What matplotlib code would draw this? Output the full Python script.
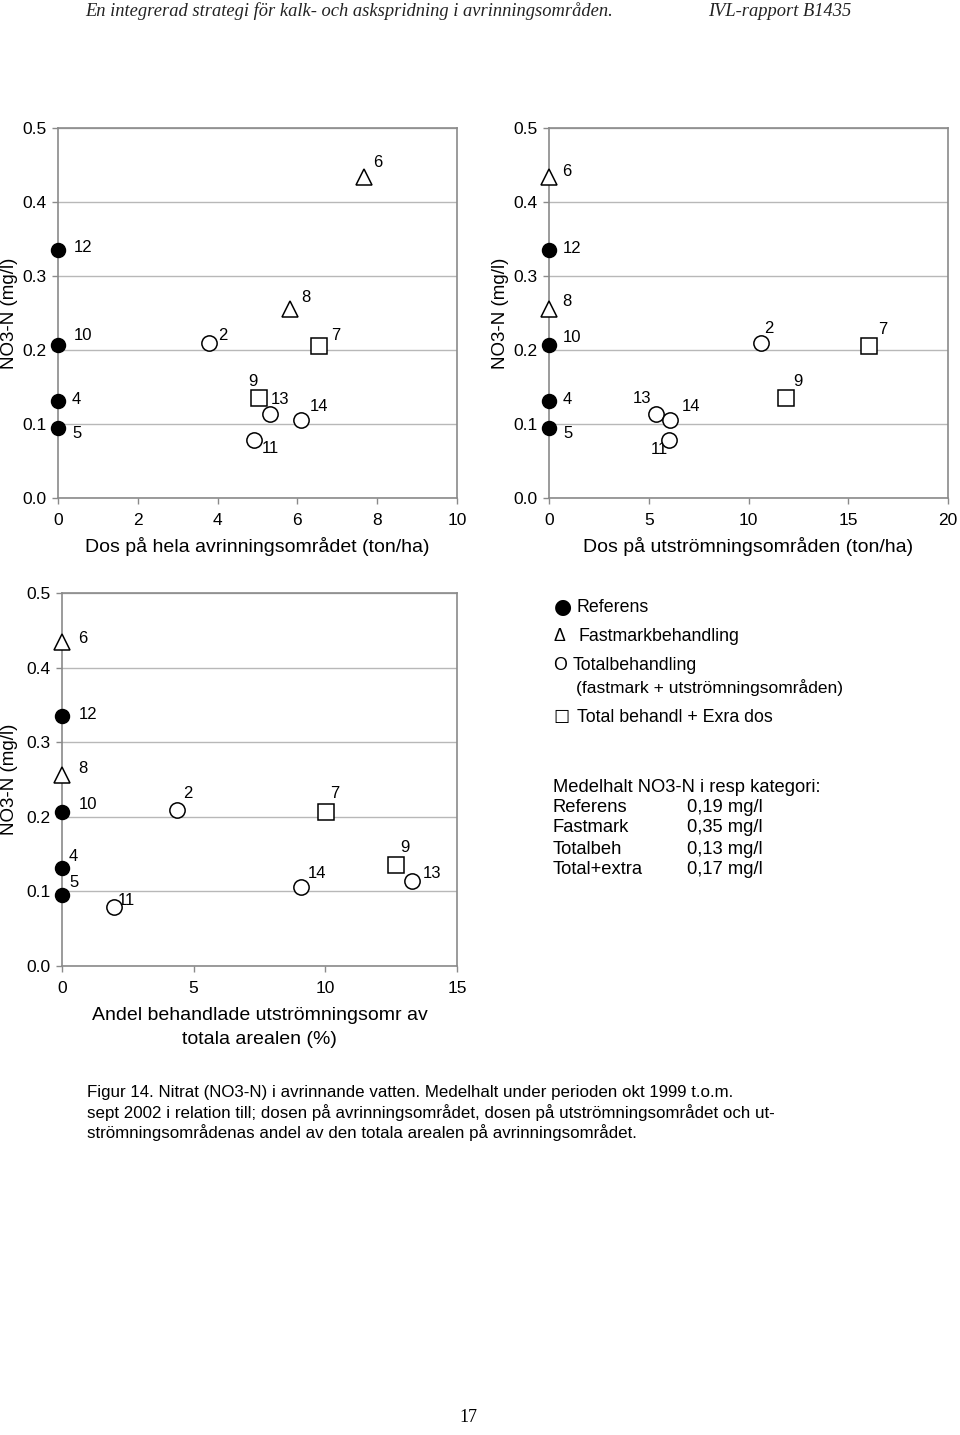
import matplotlib.pyplot as plt

plt.rcParams['font.family'] = ['Liberation Sans', 'DejaVu Sans']

# site numbers and NO3-N (mg/l) for each category
ref_sites = ['12', '10', '4', '5']
ref_no3 = [0.335, 0.207, 0.131, 0.095]
fast_sites = ['6', '8']
fast_no3 = [0.434, 0.256]
tot_sites = ['2', '13', '14', '11']
tot_no3 = [0.209, 0.114, 0.106, 0.079]
ext_sites = ['7', '9']
ext_no3 = [0.206, 0.135]

# dos på hela avrinningsområdet (ton/ha)
ref_dos_hela = [0, 0, 0, 0]
fast_dos_hela = [7.68, 5.82]
tot_dos_hela = [3.78, 5.31, 6.08, 4.92]
ext_dos_hela = [6.54, 5.05]

# dos på utströmningsområden (ton/ha)
ref_dos_utstr = [0, 0, 0, 0]
fast_dos_utstr = [0, 0]
tot_dos_utstr = [10.64, 5.35, 6.08, 6.0]
ext_dos_utstr = [16.04, 11.9]

# andel behandlade utströmningsområden av totala arealen (%)
ref_andel = [0, 0, 0, 0]
fast_andel = [0, 0]
tot_andel = [4.36, 13.31, 9.08, 1.98]
ext_andel = [10.01, 12.68]

legend_rows = ['Referens', 'Fastmark', 'Totalbeh', 'Total+extra']
legend_means = ['0,19 mg/l', '0,35 mg/l', '0,13 mg/l', '0,17 mg/l']

W, H = 960, 1435
fig = plt.figure(figsize=(W / 100, H / 100), dpi=100)


def box(l, t, r, b):
    return [l / W, 1 - b / H, (r - l) / W, (b - t) / H]


def panel(rect, xs, xmax, xstep, xlabel, offsets, xlabel_pad, ylab_x):
    ax = fig.add_axes(rect)
    groups = [
        (ref_sites, ref_no3, xs[0], dict(marker='o', ms=10, mfc='black')),
        (fast_sites, fast_no3, xs[1], dict(marker='^', ms=11.5, mfc='white')),
        (tot_sites, tot_no3, xs[2], dict(marker='o', ms=11, mfc='white')),
        (ext_sites, ext_no3, xs[3], dict(marker='s', ms=11, mfc='white')),
    ]
    for sites, yv, xv, style in groups:
        ax.plot(xv, yv, ls='none', mec='black', mew=1.1, clip_on=False,
                zorder=5, **style)
        for s, x, y in zip(sites, xv, yv):
            o = offsets[s]
            ha = o[2] if len(o) > 2 else 'left'
            ax.annotate(s, (x, y), xytext=(o[0], o[1]), textcoords='offset pixels',
                        ha=ha, va='center', fontsize=12)
    ax.set_xlim(0, xmax)
    ax.set_ylim(0, 0.5)
    ax.set_xticks(range(0, xmax + 1, xstep))
    ax.set_yticks([0, 0.1, 0.2, 0.3, 0.4, 0.5])
    ax.set_yticklabels(['0.0', '0.1', '0.2', '0.3', '0.4', '0.5'])
    ax.yaxis.grid(True, color='#b8b8b8', lw=1)
    ax.set_axisbelow(True)
    for sp in ax.spines.values():
        sp.set_color('#8a8a8a')
        sp.set_linewidth(1.2)
    ax.tick_params(axis='x', length=4, width=1, color='#8a8a8a', pad=7, labelsize=12.5)
    ax.tick_params(axis='y', length=4, width=1, color='#8a8a8a', pad=4, labelsize=12.5)
    ax.set_xlabel(xlabel, fontsize=14, labelpad=xlabel_pad, linespacing=1.5)
    ax.set_ylabel('NO3-N (mg/l)', fontsize=13.5)
    # right edge of the rotated label, in axes fraction
    ax.yaxis.set_label_coords(ylab_x, 0.5)
    return ax


off1 = {'12': (16, 3), '10': (16, 9), '4': (14, 2), '5': (14, -6), '6': (9, 14),
        '8': (11, 11), '2': (9, 8), '13': (1, 14), '14': (9, 13), '11': (7, -9),
        '7': (12, 10), '9': (-11, 17)}
off2 = {'12': (14, 2), '10': (14, 7), '4': (14, 2), '5': (14, -6), '6': (13, 5),
        '8': (13, 7), '2': (3, 15), '13': (-4, 15, 'right'), '14': (11, 13),
        '11': (-18, -10), '7': (9, 16), '9': (7, 17)}
off3 = {'12': (17, 2), '10': (17, 7), '4': (7, 12), '5': (7, 13), '6': (16, 4),
        '8': (16, 7), '2': (6, 17), '11': (4, 7), '14': (7, 13), '13': (10, 7),
        '7': (5, 19), '9': (4, 18)}

panel(box(58, 128, 457, 498),
      [ref_dos_hela, fast_dos_hela, tot_dos_hela, ext_dos_hela],
      10, 2, 'Dos på hela avrinningsområdet (ton/ha)', off1, 6, -40 / 399)
panel(box(549, 128, 948, 498),
      [ref_dos_utstr, fast_dos_utstr, tot_dos_utstr, ext_dos_utstr],
      20, 5, 'Dos på utströmningsområden (ton/ha)', off2, 6, -40 / 399)
panel(box(62, 593, 457, 966),
      [ref_andel, fast_andel, tot_andel, ext_andel],
      15, 5, 'Andel behandlade utströmningsomr av\ntotala arealen (%)', off3, 8, -44 / 395)

# legend text block
fs = 12.8
fig.text(563 / W, 1 - 607 / H, '●', family='DejaVu Sans', fontsize=15, ha='center', va='center')
fig.text(577 / W, 1 - 608 / H, 'Referens', fontsize=fs, va='center')
fig.text(554 / W, 1 - 636 / H, 'Δ', fontsize=fs, va='center')
fig.text(579 / W, 1 - 636 / H, 'Fastmarkbehandling', fontsize=fs, va='center')
fig.text(553 / W, 1 - 665 / H, 'O', fontsize=fs, va='center')
fig.text(573 / W, 1 - 665 / H, 'Totalbehandling', fontsize=fs, va='center')
fig.text(576 / W, 1 - 688 / H, '(fastmark + utströmningsområden)', fontsize=12.5, va='center')
fig.text(553 / W, 1 - 718 / H, '☐', family='DejaVu Sans', fontsize=13, va='center')
fig.text(577 / W, 1 - 718 / H, 'Total behandl + Exra dos', fontsize=fs, va='center')
fig.text(553 / W, 1 - 787 / H, 'Medelhalt NO3-N i resp kategori:', fontsize=13.2, va='center')
for i, (name, mean) in enumerate(zip(legend_rows, legend_means)):
    y = 1 - (807 + i * 21) / H
    fig.text(553 / W, y, name, fontsize=13.2, va='center')
    fig.text(687 / W, y, mean, fontsize=13.2, va='center')

# page header
fig.text(85 / W, 1 - 11 / H,
         'En integrerad strategi för kalk- och askspridning i avrinningsområden.',
         family='Liberation Serif', style='italic', fontsize=13.3, va='center', color='#222222')
fig.text(708 / W, 1 - 11 / H, 'IVL-rapport B1435',
         family='Liberation Serif', style='italic', fontsize=13.3, va='center', color='#222222')

# caption
caption = ['Figur 14. Nitrat (NO3-N) i avrinnande vatten. Medelhalt under perioden okt 1999 t.o.m.',
           'sept 2002 i relation till; dosen på avrinningsområdet, dosen på utströmningsområdet och ut-',
           'strömningsområdenas andel av den totala arealen på avrinningsområdet.']
for i, line in enumerate(caption):
    fig.text(87 / W, 1 - (1093 + i * 20) / H, line, fontsize=12.2, va='center')

fig.text(468 / W, 1 - 1418 / H, '17', family='Liberation Serif', fontsize=13,
         ha='center', va='center')

fig.savefig('out.png', dpi=100)
